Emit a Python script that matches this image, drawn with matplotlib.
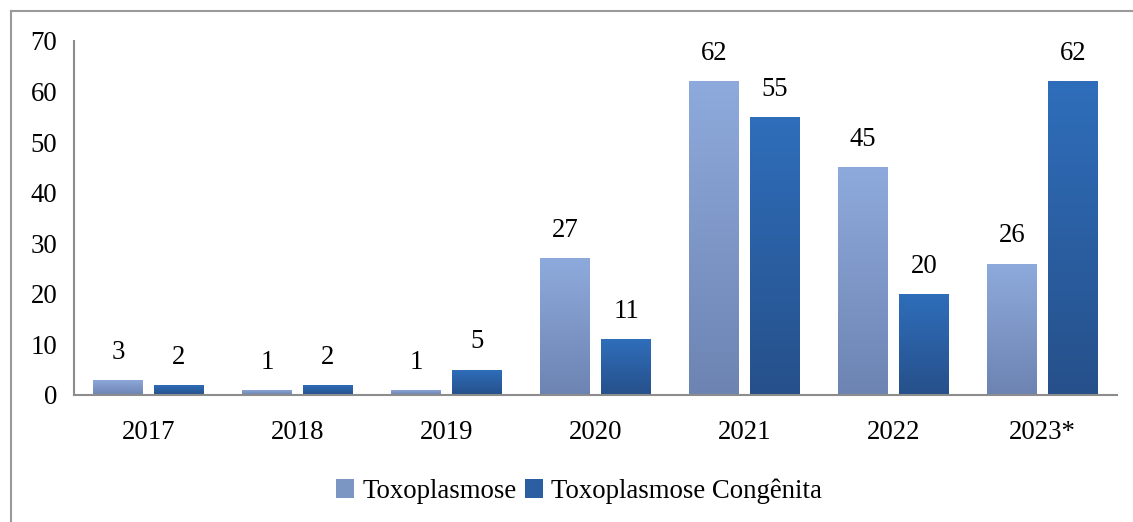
import numpy as np
import matplotlib.pyplot as plt
from matplotlib.patches import Patch
from matplotlib.colors import LinearSegmentedColormap
from matplotlib.lines import Line2D

# Data
anos = ['2017', '2018', '2019', '2020', '2021', '2022', '2023*']
toxoplasmose = [3, 1, 1, 27, 62, 45, 26]
congenita = [2, 2, 5, 11, 55, 20, 62]
series_names = ['Toxoplasmose', 'Toxoplasmose Congênita']

plt.rcParams['font.family'] = ['Liberation Serif', 'DejaVu Serif']

# gradient colours (top -> bottom)
grad_light = LinearSegmentedColormap.from_list('light', ['#6D84B2', '#8EAADC'])
grad_dark = LinearSegmentedColormap.from_list('dark', ['#26508A', '#2F6EBB'])

fig = plt.figure(figsize=(11.33, 5.22), dpi=100)
ax = fig.add_axes([0.0653, 0.2433, 0.9206, 0.6782])

x = np.arange(len(anos))
width = 0.33
offset = 0.205
fs = 19.3

grad = np.linspace(0, 1, 256).reshape(-1, 1)


def gradient_bars(xpos, values, cmap):
    bars = ax.bar(xpos, values, width, color='none', edgecolor='none', zorder=2)
    for b in bars:
        x0, y0 = b.get_x(), b.get_y()
        w, h = b.get_width(), b.get_height()
        im = ax.imshow(grad, extent=[x0, x0 + w, y0, y0 + h], origin='lower',
                       aspect='auto', cmap=cmap, zorder=2)
        im.set_clip_path(b)
    for xi, v in zip(xpos, values):
        ax.annotate(str(v), (xi, v), xytext=(0, 11), textcoords='offset points',
                    ha='center', va='bottom', fontsize=fs, color='black')
    return bars


gradient_bars(x - offset, toxoplasmose, grad_light)
gradient_bars(x + offset, congenita, grad_dark)

ax.set_xlim(-0.5, len(anos) - 0.5)
ax.set_ylim(0, 70)
ax.set_yticks(range(0, 71, 10))
ax.set_xticks(x)
ax.set_xticklabels(anos)
ax.tick_params(axis='both', length=0, labelsize=fs)
ax.tick_params(axis='y', pad=12)
ax.tick_params(axis='x', pad=18)

for side in ['top', 'right']:
    ax.spines[side].set_visible(False)
for side in ['left', 'bottom']:
    ax.spines[side].set_color('#8C8C8C')
    ax.spines[side].set_linewidth(1.5)

# outer frame (left and top edges visible)
fig.add_artist(Line2D([11 / 1133, 11 / 1133], [0, 1 - 11 / 522],
                      transform=fig.transFigure, color='#9A9A9A', lw=1.5))
fig.add_artist(Line2D([11 / 1133, 1], [1 - 11 / 522, 1 - 11 / 522],
                      transform=fig.transFigure, color='#9A9A9A', lw=1.5))

handles = [Patch(facecolor='#7C96C4', edgecolor='none'),
           Patch(facecolor='#2B5FA2', edgecolor='none')]
fig.legend(handles, series_names, loc='center', bbox_to_anchor=(579 / 1133, 1 - 491 / 522),
           ncol=2, frameon=False, fontsize=fs, handlelength=0.7, handleheight=0.7,
           handletextpad=0.3, columnspacing=0.3)

fig.savefig('out.png', dpi=100)
